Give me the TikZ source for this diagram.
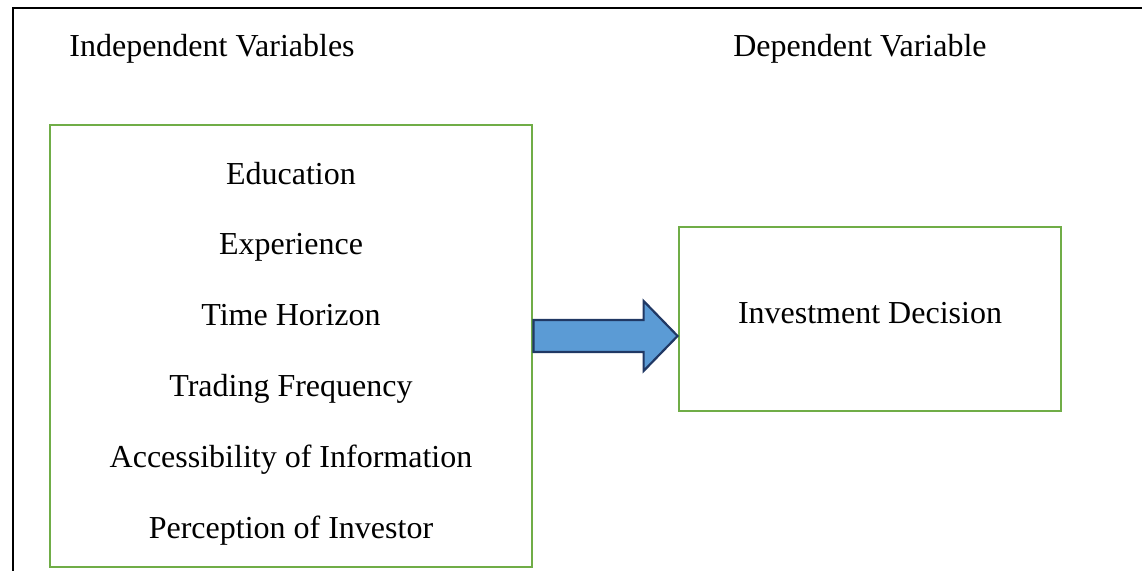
\documentclass[tikz,border=0pt]{standalone}
\usepackage{fontspec}
\setmainfont{Liberation Serif}
\usetikzlibrary{calc}
\definecolor{boxgreen}{HTML}{70AD47}
\definecolor{arrowblue}{HTML}{5B9BD5}
\definecolor{arrowedge}{HTML}{203864}
\begin{document}
\begin{tikzpicture}[x=0.5pt,y=-0.5pt,
  varbox/.style={draw=boxgreen,line width=1.4pt,inner sep=0pt,fill=white},
  lbl/.style={anchor=base,inner sep=0pt,font=\fontsize{16}{19}\selectfont},
  framebar/.style={draw=black,line width=1pt},
  bigarrow/.style={fill=arrowblue,draw=arrowedge,line width=1.1pt,line join=miter}]
\useasboundingbox (0,0) rectangle (1142,571);
\fill[white] (0,0) rectangle (1142,571);
% open outer frame (left and top edges)
\coordinate (fb) at (13,571);
\coordinate (fc) at (13,8);
\coordinate (fr) at (1142,8);
\draw[framebar] (fb) -- (fc) -- (fr);
% headings
\node[lbl] (hind) at (212,57) {Independent Variables};
\node[lbl] (hdep) at (860,57) {Dependent Variable};
% boxes
\node[varbox,minimum width=241pt,minimum height=221pt] (L) at (291,346) {};
\node[varbox,minimum width=191pt,minimum height=92pt] (R) at (870,319) {};
% independent variables
\node[lbl] (v1) at (291,185) {Education};
\node[lbl] (v2) at (291,255) {Experience};
\node[lbl] (v3) at (291,326) {Time Horizon};
\node[lbl] (v4) at (291,397) {Trading Frequency};
\node[lbl] (v5) at (291,468) {Accessibility of Information};
\node[lbl] (v6) at (291,539) {Perception of Investor};
% dependent variable
\node[lbl] (dv) at (870,324) {Investment Decision};
% block arrow from L to R
\coordinate (tip) at ($(R.west)+(0,17)$);
\coordinate (tail) at (L.east|-tip);
\draw[bigarrow] ($(tail)+(0,-16)$) -- ($(tip)+(-34,-16)$) -- ($(tip)+(-34,-35)$)
  -- (tip) -- ($(tip)+(-34,35)$) -- ($(tip)+(-34,16)$) -- ($(tail)+(0,16)$) -- cycle;
\end{tikzpicture}
\end{document}
